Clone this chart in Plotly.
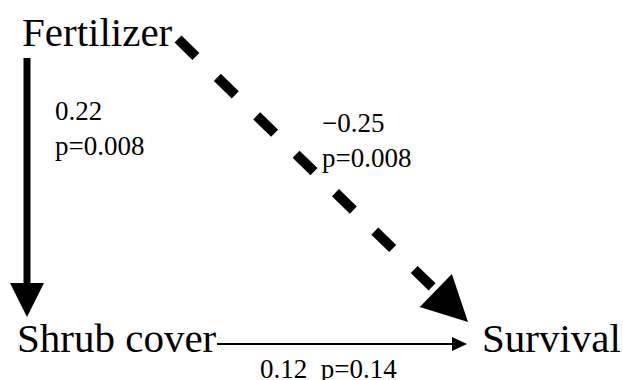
import plotly.graph_objects as go
import math

# ---- data ----
nodes = ["Fertilizer", "Shrub cover", "Survival"]
path_from = ["Fertilizer", "Fertilizer", "Shrub cover"]
path_to = ["Shrub cover", "Survival", "Survival"]
coefs = [0.22, -0.25, 0.12]
pvals = [0.008, 0.008, 0.14]

# ---- layout (pixel positions) ----
W, H = 623, 380
node_x = {"Fertilizer": 20, "Shrub cover": 15, "Survival": 480}
node_y = {"Fertilizer": 32, "Shrub cover": 338, "Survival": 338}

# arrow geometry: start, tip, width, head length, head half-width, dash
arrows = [
    dict(start=(27, 58), tip=(27, 317), w=7, hl=34, hw=17, dash="solid"),
    dict(start=(178, 39), tip=(468, 322), w=10, hl=45, hw=23, dash="25px,30px"),
    dict(start=(217, 344), tip=(467, 344), w=2, hl=15, hw=7, dash="solid"),
]
label_pos = [(53, 128, "left"), (320, 140, "left"), (258, 369, "left")]

FONT = "Liberation Serif"

fig = go.Figure()
shapes = []
for a in arrows:
    (x0, y0), (x1, y1) = a["start"], a["tip"]
    L = math.hypot(x1 - x0, y1 - y0)
    ux, uy = (x1 - x0) / L, (y1 - y0) / L
    bx, by = x1 - ux * a["hl"], y1 - uy * a["hl"]
    px, py = -uy, ux
    shapes.append(dict(type="line", xref="x", yref="y", x0=x0, y0=y0,
                       x1=bx + ux * 2, y1=by + uy * 2,
                       line=dict(color="black", width=a["w"], dash=a["dash"])))
    p1 = (bx + px * a["hw"], by + py * a["hw"])
    p2 = (bx - px * a["hw"], by - py * a["hw"])
    path = f"M {x1},{y1} L {p1[0]},{p1[1]} L {p2[0]},{p2[1]} Z"
    shapes.append(dict(type="path", xref="x", yref="y", path=path,
                       fillcolor="black", line=dict(color="black", width=0)))

annotations = []
for n in nodes:
    annotations.append(dict(x=node_x[n], y=node_y[n], xref="x", yref="y",
                            text=n, showarrow=False, xanchor="left", yanchor="middle",
                            font=dict(family=FONT, size=41, color="black")))

def fmt(v):
    s = f"{abs(v):.2f}"
    return ("\u2212" + s) if v < 0 else s

for i, (c, p) in enumerate(zip(coefs, pvals)):
    x, y, al = label_pos[i]
    if i < 2:
        txt = f"{fmt(c)}<br>p={p:g}"
    else:
        txt = f"{fmt(c)}\u00a0\u00a0p={p:g}"
    annotations.append(dict(x=x, y=y, xref="x", yref="y", text=txt, showarrow=False,
                            xanchor="left", yanchor="middle", align="left",
                            font=dict(family=FONT, size=27, color="black")))

fig.update_layout(
    width=W, height=H, margin=dict(l=0, r=0, t=0, b=0),
    paper_bgcolor="white", plot_bgcolor="white",
    xaxis=dict(range=[0, W], visible=False, fixedrange=True),
    yaxis=dict(range=[H, 0], visible=False, fixedrange=True),
    shapes=shapes, annotations=annotations, showlegend=False,
)
fig.write_html("out.html")
